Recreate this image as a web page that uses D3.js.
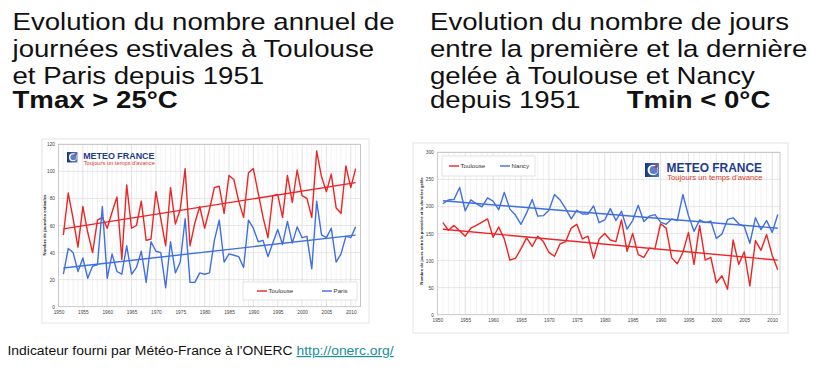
<!DOCTYPE html>
<html><head><meta charset="utf-8">
<script src="https://cdn.jsdelivr.net/npm/d3@7"></script>
<style>
html,body{margin:0;padding:0;background:#fff;}
svg{display:block;font-family:"Liberation Sans",Arial,sans-serif;}
</style></head><body>
<svg id="c" width="819" height="370"></svg>
<script>
const years = d3.range(1951, 2012);
// Left chart: nombre annuel de journées estivales (Tmax > 25°C)
const toulouseSummer = [53,84,65,44,74,55,40,64,66,58,70,81,35,90,58,60,78,49,50,85,65,45,88,61,72,102,45,62,74,58,72,88,89,69,97,94,78,66,99,102,84,66,51,82,83,66,97,77,101,82,80,66,115,96,85,98,73,69,104,88,102];
const parisSummer = [24,43,40,26,36,21,30,31,74,21,39,26,24,45,24,29,41,18,48,41,40,14,48,25,33,65,18,18,25,24,25,49,64,33,39,38,37,29,64,58,48,49,37,47,57,46,63,47,59,51,52,28,78,53,51,58,33,39,52,51,59];
// Right chart: nombre de jours entre la première et la dernière gelée (Tmin < 0°C)
const toulouseFrost = [170,156,165,155,145,160,165,171,177,143,162,140,101,104,122,142,126,145,135,115,108,131,135,160,167,140,145,104,140,150,138,135,175,117,150,111,106,123,122,168,160,105,94,115,152,93,165,101,106,59,72,47,138,93,116,53,137,119,148,110,83];
const nancyFrost = [205,212,213,235,192,212,205,199,216,210,194,226,195,184,167,188,213,182,183,193,222,212,196,177,193,186,186,201,170,175,196,174,191,158,174,202,172,182,185,171,167,177,174,222,183,154,175,170,173,141,149,176,179,168,163,132,179,157,174,152,185];
const xTicks = [1950,1955,1960,1965,1970,1975,1980,1985,1990,1995,2000,2005,2010];
const yTicksLeft = [0,20,40,60,80,100,120];
const yTicksRight = [0,50,100,150,200,250,300];

const RED = "#ee2323", BLUE = "#3f6fe2";
const svg = d3.select("#c");
const defs = svg.append("defs");

// Titles (horizontally stretched like the reference image)
function title(x, baselines, lines){
  const tg = svg.append("g").attr("transform",`translate(${x},0) scale(1.15,1)`);
  lines.forEach((ln,i)=>{
    const t = tg.append("text").attr("x",0).attr("y",baselines[i])
      .attr("font-size",24).attr("fill","#111");
    ln.forEach(seg=>{
      const sp = t.append("tspan").text(seg.t).attr("font-weight",seg.b?"bold":"normal");
      if(seg.x!==undefined) sp.attr("x",seg.x);
    });
  });
}
title(12.5,[30,57.3,84.5,108],[[{t:"Evolution du nombre annuel de"}],[{t:"journées estivales à Toulouse"}],[{t:"et Paris depuis 1951"}],[{t:"Tmax > 25°C",b:true}]]);
title(430,[30,57.3,84.5,108],[[{t:"Evolution du nombre de jours"}],[{t:"entre la première et la dernière"}],[{t:"gelée à Toulouse et Nancy"}],[{t:"depuis 1951"},{t:"Tmin < 0°C",b:true,x:171}]]);

// Footer
const ft = svg.append("g").attr("transform","translate(7.5,355) scale(1.13,1)")
  .append("text").attr("x",0).attr("y",0).attr("font-size",12.3).attr("fill","#111");
ft.append("tspan").text("Indicateur fourni par Météo-France à l'ONERC ");
ft.append("tspan").text("http://onerc.org/").attr("fill","#1a8f9a").attr("text-decoration","underline");

function logo(g, x, y, s){
  const lg = g.append("g").attr("transform",`translate(${x},${y}) scale(${s})`);
  const grad = defs.append("linearGradient").attr("id","lg"+x).attr("x1","0").attr("x2","1");
  grad.append("stop").attr("offset","0").attr("stop-color","#17357e");
  grad.append("stop").attr("offset","1").attr("stop-color","#4f78c4");
  lg.append("rect").attr("x",0).attr("y",0).attr("width",11).attr("height",11).attr("fill",`url(#lg${x})`);
  lg.append("circle").attr("cx",6.2).attr("cy",5.5).attr("r",4.2).attr("fill","#fff");
  lg.append("circle").attr("cx",6.8).attr("cy",5.5).attr("r",3.2).attr("fill","#5a7fc8");
  lg.append("circle").attr("cx",8.6).attr("cy",3.2).attr("r",1.1).attr("fill","#e03030");
  lg.append("text").attr("x",17).attr("y",7.3).attr("font-size",9.4).attr("font-weight","bold")
    .attr("fill","#1d3c8c").text("METEO FRANCE");
  lg.append("text").attr("x",17.5).attr("y",13.4).attr("font-size",5).attr("fill","#d83a2a")
    .attr("textLength",75).attr("lengthAdjust","spacingAndGlyphs")
    .text("Toujours un temps d'avance");
}

function chart(opt){
  const g = svg.append("g");
  g.append("rect").attr("x",opt.box[0]).attr("y",opt.box[1]).attr("width",opt.box[2]).attr("height",opt.box[3])
    .attr("fill","#fff").attr("stroke","#e4e4e4").attr("stroke-width",1);
  const x = d3.scaleLinear().domain(opt.xDomain).range([opt.l, opt.r]);
  const y = d3.scaleLinear().domain(opt.yDomain).range([opt.b, opt.t]);
  g.append("g").selectAll("line").data(d3.range(opt.xDomain[0]+1, Math.floor(opt.xDomain[1])+1))
    .join("line").attr("x1",d=>x(d)).attr("x2",d=>x(d)).attr("y1",opt.t).attr("y2",opt.b)
    .attr("stroke",d=>d%5===0?"#d4d4d4":"#ececec").attr("stroke-width",0.7);
  g.append("g").selectAll("line").data(opt.yTicks.slice(1))
    .join("line").attr("x1",opt.l).attr("x2",opt.r).attr("y1",d=>y(d)).attr("y2",d=>y(d))
    .attr("stroke","#dcdcdc").attr("stroke-width",0.7);
  g.append("rect").attr("x",opt.l).attr("y",opt.t).attr("width",opt.r-opt.l).attr("height",opt.b-opt.t)
    .attr("fill","none").attr("stroke","#bdbdbd").attr("stroke-width",0.8);
  const ax = g.append("g").attr("transform",`translate(0,${opt.b})`)
    .call(d3.axisBottom(x).tickValues(xTicks).tickFormat(d3.format("d")).tickSize(0).tickPadding(4));
  const ay = g.append("g").attr("transform",`translate(${opt.l},0)`)
    .call(d3.axisLeft(y).tickValues(opt.yTicks).tickSize(0).tickPadding(3.5));
  [ax,ay].forEach(a=>{a.select(".domain").remove();
    a.selectAll("text").attr("font-size",opt.fs).attr("fill","#444").attr("font-family","'Liberation Sans',Arial,sans-serif");});
  g.append("text").attr("transform",`translate(${opt.ylx},${opt.yly}) rotate(-90)`)
    .attr("text-anchor","middle").attr("font-size",opt.yfs).attr("font-weight","bold").attr("fill","#222").text(opt.ylabel);
  logo(g, opt.logo[0], opt.logo[1], opt.logo[2]);
  const line = d3.line().x(d=>x(d[0])).y(d=>y(d[1]));
  opt.series.forEach(s=>{
    const pts = years.map((yr,i)=>[yr,s.values[i]]);
    const mx = d3.mean(years), my = d3.mean(s.values);
    const slope = d3.sum(years,(yr,i)=>(yr-mx)*(s.values[i]-my))/d3.sum(years,yr=>(yr-mx)**2);
    const trend = [years[0], years[years.length-1]].map(yr=>[yr, my+slope*(yr-mx)]);
    g.append("path").attr("d",line(trend)).attr("fill","none").attr("stroke",s.color).attr("stroke-width",1.4);
    g.append("path").attr("d",line(pts)).attr("fill","none").attr("stroke",s.color).attr("stroke-width",1.4).attr("stroke-linejoin","round");
  });
  const L = opt.legend;
  g.append("rect").attr("x",L.x).attr("y",L.y).attr("width",L.w).attr("height",L.h)
    .attr("fill","#fff").attr("stroke","#d8d8d8").attr("stroke-width",0.7);
  opt.series.forEach((s,i)=>{
    const lx = L.x + L.items[i];
    g.append("line").attr("x1",lx).attr("x2",lx+L.len).attr("y1",L.y+L.h/2).attr("y2",L.y+L.h/2)
      .attr("stroke",s.color).attr("stroke-width",1.4);
    g.append("text").attr("x",lx+L.len+1.5).attr("y",L.y+L.h/2+L.fs*0.36).attr("font-size",L.fs).attr("fill","#333").text(s.name);
  });
}

chart({box:[42,139,327,184], l:58.5, r:360.5, t:144.3, b:306.7, xDomain:[1950,2012], yDomain:[0,120],
  yTicks:yTicksLeft, fs:4.8, yfs:4.3, ylabel:"Nombre de journées estivales", ylx:46, yly:225,
  logo:[67,152,0.95],
  legend:{x:243,y:282,w:114,h:18,items:[14,79],len:10,fs:6.2},
  series:[{name:"Toulouse",values:toulouseSummer,color:RED},{name:"Paris",values:parisSummer,color:BLUE}]});

chart({box:[413,143,375,190], l:437.3, r:780, t:152.3, b:314.7, xDomain:[1950,2011.4], yDomain:[0,300],
  yTicks:yTicksRight, fs:4.8, yfs:4.2, ylabel:"Nombre de jours entre la première et la dernière gelée", ylx:423, yly:231,
  logo:[645,163,1.27],
  legend:{x:442,y:156,w:93,h:20,items:[7,58],len:10,fs:6.2},
  series:[{name:"Toulouse",values:toulouseFrost,color:RED},{name:"Nancy",values:nancyFrost,color:BLUE}]});
</script>
</body></html>
